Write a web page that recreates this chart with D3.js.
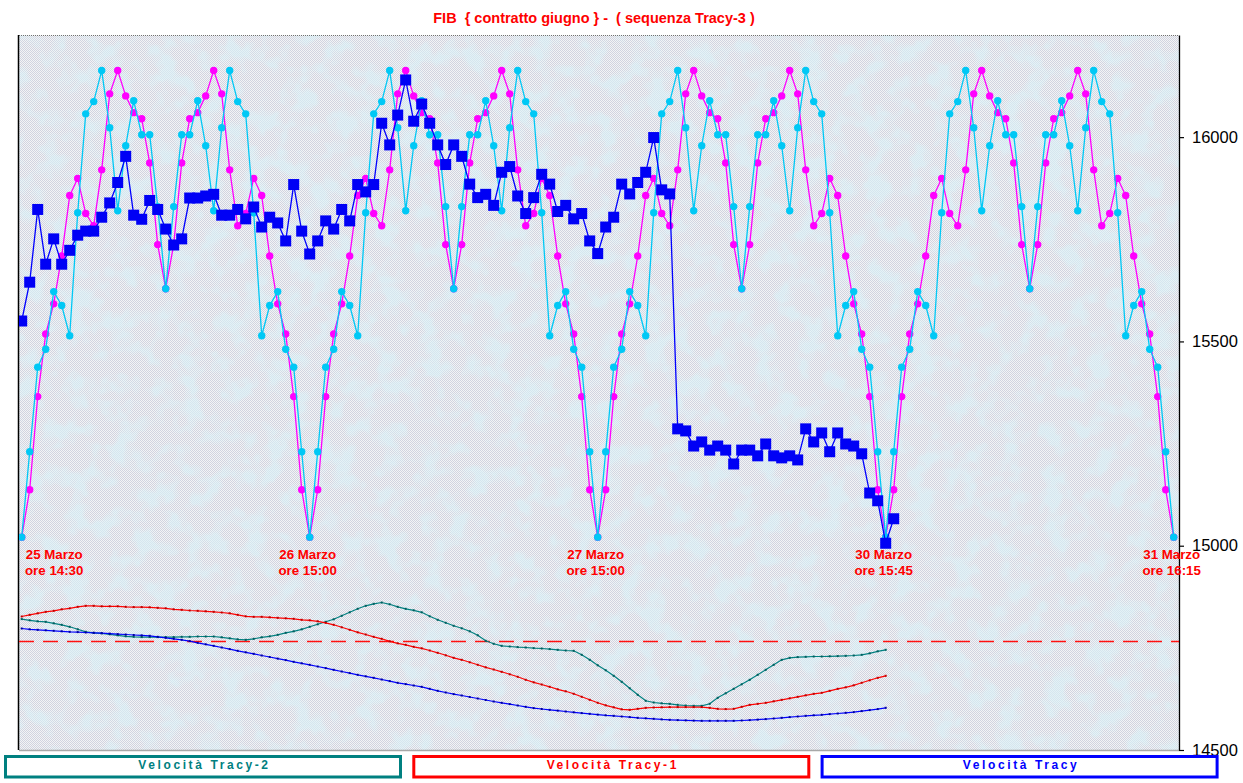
<!DOCTYPE html>
<html><head><meta charset="utf-8">
<script src="https://cdn.jsdelivr.net/npm/d3@7"></script>
<style>
html,body{margin:0;padding:0;background:#fff;}
svg{display:block;}
text{font-family:"Liberation Sans",Arial,sans-serif;}
</style></head>
<body><svg id="chart" width="1243" height="783"></svg>
<script>
// ---------------- DATA ----------------
const titleText = "FIB  { contratto giugno } -  ( sequenza Tracy-3 )";
const yTicks = [14500, 15000, 15500, 16000];

const dateIdx = [0, 36, 72, 108, 144];
const dateLine1 = ["25 Marzo", "26 Marzo", "27 Marzo", "30 Marzo", "31 Marzo"];
const dateLine2 = ["ore 14:30", "ore 15:00", "ore 15:00", "ore 15:45", "ore 16:15"];

// cyan sequence (145 points)
const seqCyan = [
15021,15230,15437,15481,15622,15588,15514,15815,16057,16087,16163,16023,15820,15979,16089,16006,16006,15830,15629,15830,16006,16006,16089,15979,15820,16023,16163,16087,16057,15815,15514,15588,15622,15481,15437,15230,
15021,15230,15437,15481,15622,15588,15514,15815,16057,16087,16163,16023,15820,15979,16089,16006,16006,15830,15629,15830,16006,16006,16089,15979,15820,16023,16163,16087,16057,15815,15514,15588,15622,15481,15437,15230,
15021,15230,15437,15481,15622,15588,15514,15815,16057,16087,16163,16023,15820,15979,16089,16006,16006,15830,15629,15830,16006,16006,16089,15979,15820,16023,16163,16087,16057,15815,15514,15588,15622,15481,15437,15230,
15021,15230,15437,15481,15622,15588,15514,15815,16057,16087,16163,16023,15820,15979,16089,16006,16006,15830,15629,15830,16006,16006,16089,15979,15820,16023,16163,16087,16057,15815,15514,15588,15622,15481,15437,15230,
15021];

// magenta sequence (145 points)
const seqMagenta = [
15021,15137,15365,15518,15592,15709,15857,15899,15813,15783,15920,16106,16163,16101,16060,16045,15937,15737,15629,15737,15937,16045,16060,16101,16163,16106,15920,15783,15813,15899,15857,15709,15592,15518,15365,15137,
15021,15137,15365,15518,15592,15709,15857,15899,15813,15783,15920,16106,16163,16101,16060,16045,15937,15737,15629,15737,15937,16045,16060,16101,16163,16106,15920,15783,15813,15899,15857,15709,15592,15518,15365,15137,
15021,15137,15365,15518,15592,15709,15857,15899,15813,15783,15920,16106,16163,16101,16060,16045,15937,15737,15629,15737,15937,16045,16060,16101,16163,16106,15920,15783,15813,15899,15857,15709,15592,15518,15365,15137,
15021,15137,15365,15518,15592,15709,15857,15899,15813,15783,15920,16106,16163,16101,16060,16045,15937,15737,15629,15737,15937,16045,16060,16101,16163,16106,15920,15783,15813,15899,15857,15709,15592,15518,15365,15137,
15021];

// FIB price (blue squares, 110 points)
const fibPrice = [
15550,15645,15823,15689,15751,15689,15723,15760,15770,15770,
15804,15839,15889,15953,15809,15799,15845,15823,15775,15736,
15751,15851,15851,15856,15860,15809,15809,15823,15800,15829,
15780,15804,15790,15746,15884,15770,15714,15746,15795,15775,
15823,15795,15884,15866,15884,16034,15981,16054,16140,16039,
16081,16034,15981,15933,15981,15953,15885,15852,15860,15833,
15914,15928,15856,15813,15852,15909,15885,15818,15833,15800,
15813,15746,15715,15780,15804,15885,15861,15889,15914,15999,
15871,15861,15286,15281,15244,15254,15234,15244,15234,15200,
15234,15234,15220,15249,15220,15215,15220,15210,15286,15254,
15276,15230,15276,15249,15244,15225,15129,15110,15006,15066];

// speed indicators (109 points each)
const velTracy2 = [
22.4,21.2,20.2,19.7,18.2,16.7,14.7,12.2,9.7,8.7,8.2,7.2,6.2,5.2,4.7,4.4,4.4,4.4,4.4,4.4,
4.7,4.7,5.0,5.0,5.0,4.2,3.2,2.2,1.7,2.7,4.2,5.2,6.7,8.7,10.2,12.2,14.7,17.2,19.7,22.2,
25.7,29.2,32.7,35.7,37.7,39.0,37.2,34.7,32.7,31.2,29.2,25.2,21.7,18.7,15.7,13.2,10.2,6.2,0.7,-2.3,
-4.3,-5.0,-5.6,-6.0,-6.6,-7.0,-7.6,-8.3,-9.0,-9.3,-13.3,-18.3,-23.8,-28.8,-34.3,-40.3,-46.8,-53.3,-59.3,-61.0,
-61.8,-62.3,-63.3,-64.0,-64.3,-64.3,-62.3,-56.3,-51.8,-47.3,-42.8,-38.3,-33.3,-28.3,-23.3,-18.3,-16.3,-15.6,-15.3,-15.0,
-15.0,-14.8,-14.6,-14.3,-14.0,-13.3,-11.8,-9.8,-8.3];

const velTracy1 = [
25.0,26.7,28.2,29.7,30.7,32.2,33.2,34.7,35.7,35.7,35.2,35.2,35.2,34.7,34.4,34.4,34.2,33.7,33.2,32.2,
31.7,31.0,30.7,30.2,29.7,29.0,28.2,26.7,25.2,24.7,24.7,24.2,23.7,23.2,22.7,21.7,21.2,20.2,18.7,16.7,
14.2,11.7,9.2,7.0,4.7,2.7,0.2,-1.8,-3.3,-5.3,-6.8,-9.0,-11.3,-13.8,-16.3,-18.3,-20.8,-23.3,-25.8,-28.0,
-30.3,-32.8,-35.3,-38.3,-40.8,-43.0,-45.3,-47.8,-49.8,-52.3,-55.3,-58.3,-61.3,-63.8,-65.8,-67.8,-68.3,-67.3,-66.3,-66.0,
-65.8,-65.6,-65.6,-65.6,-65.6,-65.6,-66.3,-67.3,-67.6,-67.3,-65.3,-63.3,-62.3,-61.3,-59.8,-58.3,-56.8,-55.3,-53.8,-52.3,
-51.3,-49.3,-47.3,-45.8,-43.8,-41.3,-38.8,-36.3,-34.3];

const velTracy = [
13.0,12.2,11.7,11.2,10.7,10.2,9.7,9.4,9.0,8.7,8.3,7.9,7.4,7.0,6.5,6.1,5.7,4.7,3.7,2.7,
1.7,0.4,-1.3,-2.8,-4.3,-6.0,-7.6,-9.3,-10.8,-12.3,-14.0,-15.5,-17.1,-18.6,-20.3,-21.8,-23.3,-25.0,-26.6,-28.3,
-30.0,-31.6,-33.3,-34.8,-36.3,-38.0,-39.6,-41.3,-42.6,-44.0,-45.3,-47.3,-49.3,-51.0,-52.6,-54.0,-55.5,-57.0,-58.5,-60.0,
-61.3,-62.6,-64.0,-65.3,-66.6,-67.5,-68.3,-69.1,-70.0,-70.8,-71.6,-72.3,-73.1,-73.8,-74.3,-75.0,-75.6,-76.3,-76.8,-77.3,
-77.9,-78.3,-78.6,-78.9,-79.1,-79.3,-79.3,-79.3,-79.3,-79.3,-79.0,-78.6,-78.1,-77.6,-77.0,-76.3,-75.6,-75.0,-74.3,-73.8,
-73.3,-72.6,-72.0,-71.3,-70.6,-69.6,-68.6,-67.6,-66.3];

const legendNames = ["Velocità Tracy-2", "Velocità Tracy-1", "Velocità Tracy"];
const legendColors = ["#008080", "#ff0000", "#0000ff"];

// ---------------- LAYOUT ----------------
const svg = d3.select("#chart");
const P = {left: 19, right: 1179, top: 35, bottom: 750};

const x = d3.scaleLinear().domain([0, 144]).range([21.7, 1173.7]);
const y = d3.scaleLinear().domain([14500, 16250]).range([P.bottom, P.top]);
const yInd = d3.scaleLinear().domain([0, 100]).range([641.5, 541.5]);

// background texture
const defs = svg.append("defs");
const pat = defs.append("pattern").attr("id", "dither")
  .attr("patternUnits", "userSpaceOnUse").attr("width", 2).attr("height", 2);
pat.append("rect").attr("width", 2).attr("height", 2).attr("fill", "#f3f4f5");
pat.append("rect").attr("x", 0).attr("y", 0).attr("width", 1).attr("height", 1).attr("fill", "#d1d3e0");
pat.append("rect").attr("x", 1).attr("y", 1).attr("width", 1).attr("height", 1).attr("fill", "#d1d3e0");

const filt = defs.append("filter").attr("id", "spots")
  .attr("x", 0).attr("y", 0).attr("width", 1).attr("height", 1);
filt.append("feTurbulence").attr("type", "fractalNoise")
  .attr("baseFrequency", 0.045).attr("numOctaves", 3).attr("seed", 7);
filt.append("feColorMatrix").attr("type", "matrix")
  .attr("values", "0 0 0 0 0.70  0 0 0 0 0.89  0 0 0 0 0.94  4 0 0 0 -1.85");

const clip = defs.append("clipPath").attr("id", "plotclip");
clip.append("rect").attr("x", P.left).attr("y", P.top)
  .attr("width", P.right - P.left).attr("height", P.bottom - P.top);

svg.append("rect").attr("x", P.left).attr("y", P.top)
  .attr("width", P.right - P.left).attr("height", P.bottom - P.top)
  .attr("fill", "url(#dither)").attr("shape-rendering", "crispEdges");
svg.append("rect").attr("x", P.left).attr("y", P.top)
  .attr("width", P.right - P.left).attr("height", P.bottom - P.top)
  .attr("filter", "url(#spots)").attr("opacity", 0.6);

// borders
svg.append("line").attr("x1", P.left).attr("x2", P.right).attr("y1", P.top + 0.5).attr("y2", P.top + 0.5)
  .attr("stroke", "#707070").attr("stroke-width", 1).attr("stroke-dasharray", "1,1");
svg.append("line").attr("x1", P.left).attr("x2", P.right).attr("y1", P.bottom + 0.5).attr("y2", P.bottom + 0.5)
  .attr("stroke", "#a8a8a8").attr("stroke-width", 1.5);
svg.append("line").attr("x1", P.left - 0.5).attr("x2", P.left - 0.5).attr("y1", P.top).attr("y2", P.bottom)
  .attr("stroke", "#000").attr("stroke-width", 1.5);

// right axis
const axis = d3.axisRight(y).tickValues(yTicks).tickFormat(d3.format("d"))
  .tickSize(5).tickSizeOuter(0).tickPadding(8);
const gA = svg.append("g").attr("transform", `translate(${P.right},0)`).call(axis);
gA.select(".domain").attr("stroke", "#000").attr("stroke-width", 1.3);
gA.selectAll(".tick line").attr("stroke", "#000").attr("stroke-width", 1.2);
gA.selectAll(".tick text").attr("fill", "#000")
  .style("font-family", '"Liberation Sans", Arial, sans-serif').style("font-size", "16.5px");

// title
svg.append("text").attr("x", 594).attr("y", 23).attr("text-anchor", "middle")
  .attr("fill", "#ff0000").style("font-weight", "bold").style("font-size", "14.5px")
  .style("white-space", "pre").text(titleText);

const plot = svg.append("g").attr("clip-path", "url(#plotclip)");

// indicator panel
plot.append("line").attr("x1", P.left).attr("x2", P.right)
  .attr("y1", yInd(0)).attr("y2", yInd(0))
  .attr("stroke", "#ff1010").attr("stroke-width", 1.5).attr("stroke-dasharray", "15,9");

const indSeries = [
  {vals: velTracy2, color: "#008080", dot: "#005f5f"},
  {vals: velTracy1, color: "#ff0000", dot: "#c00000"},
  {vals: velTracy,  color: "#0000ff", dot: "#0000a0"}
];
const indLine = d3.line().x((d, i) => x(i)).y(d => yInd(d));
indSeries.forEach(s => {
  plot.append("path").datum(s.vals).attr("d", indLine)
    .attr("fill", "none").attr("stroke", s.color).attr("stroke-width", 1.2);
  plot.append("g").selectAll("rect").data(s.vals).join("rect")
    .attr("x", (d, i) => x(i) - 1).attr("y", d => yInd(d) - 1)
    .attr("width", 2).attr("height", 2).attr("fill", s.dot);
});

// main series
const line = d3.line().x((d, i) => x(i)).y(d => y(d));
function drawDots(vals, color) {
  plot.append("path").datum(vals).attr("d", line)
    .attr("fill", "none").attr("stroke", color).attr("stroke-width", 1.3);
  plot.append("g").selectAll("circle").data(vals).join("circle")
    .attr("cx", (d, i) => x(i)).attr("cy", d => y(d)).attr("r", 3.7).attr("fill", color);
}
drawDots(seqMagenta, "#ff00ff");
drawDots(seqCyan, "#00c8f5");

plot.append("path").datum(fibPrice).attr("d", line)
  .attr("fill", "none").attr("stroke", "#0000ff").attr("stroke-width", 1.3);
plot.append("g").selectAll("rect").data(fibPrice).join("rect")
  .attr("x", (d, i) => x(i) - 5.5).attr("y", d => y(d) - 5.5)
  .attr("width", 11).attr("height", 11).attr("fill", "#0000f5");

// date labels
dateIdx.forEach((idx, k) => {
  const g = svg.append("g");
  const t1 = g.append("text").attr("y", 559).text(dateLine1[k]);
  const t2 = g.append("text").attr("y", 575).text(dateLine2[k]);
  g.selectAll("text").attr("fill", "#ff0000").style("font-weight", "bold").style("font-size", "13.3px");
  const w = Math.max(t1.node().getComputedTextLength(), t2.node().getComputedTextLength());
  const cx = Math.max(x(idx) - 2, P.left + 6 + w / 2);
  g.selectAll("text").attr("x", cx).attr("text-anchor", "middle");
});

// legend boxes
legendNames.forEach((name, k) => {
  const x0 = 4 + k * 408.3;
  svg.append("rect").attr("x", x0 + 1.5).attr("y", 756.5).attr("width", 395).attr("height", 20.5)
    .attr("fill", "#fff").attr("stroke", legendColors[k]).attr("stroke-width", 3);
  svg.append("text").attr("x", x0 + 1.5 + 395 / 2 + 1.5).attr("y", 769).attr("text-anchor", "middle")
    .attr("fill", legendColors[k]).style("font-weight", "bold").style("font-size", "12px")
    .style("letter-spacing", "2.6px").text(name);
});
</script></body></html>
